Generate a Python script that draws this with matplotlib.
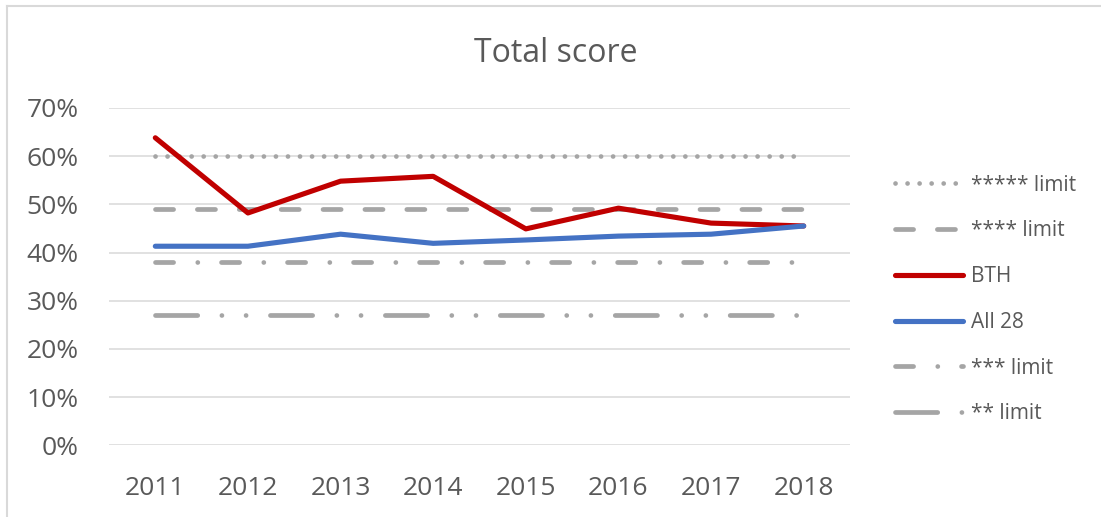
import matplotlib
matplotlib.use("Agg")
import matplotlib.pyplot as plt
from matplotlib.lines import Line2D
from matplotlib.ticker import PercentFormatter

plt.rcParams["font.family"] = ["Open Sans", "DejaVu Sans"]

years = ["2011", "2012", "2013", "2014", "2015", "2016", "2017", "2018"]
limit_5 = [60.0, 60.0, 60.0, 60.0, 60.0, 60.0, 60.0, 60.0]
limit_4 = [49.0, 49.0, 49.0, 49.0, 49.0, 49.0, 49.0, 49.0]
bth = [63.8, 48.2, 54.8, 55.8, 44.9, 49.2, 46.1, 45.5]
all28 = [41.3, 41.3, 43.8, 41.9, 42.6, 43.4, 43.8, 45.5]
limit_3 = [38.0, 38.0, 38.0, 38.0, 38.0, 38.0, 38.0, 38.0]
limit_2 = [27.0, 27.0, 27.0, 27.0, 27.0, 27.0, 27.0, 27.0]

TEXT = "#595959"
GRID = "#D9D9D9"
GRAY = "#A5A5A5"
RED = "#C00000"
BLUE = "#4472C4"

W, H = 1101, 517
fig = plt.figure(figsize=(W / 100, H / 100), dpi=100)
ax = fig.add_axes([109 / W, (H - 445.3) / H, 741 / W, (445.3 - 107.9) / H])

x = list(range(len(years)))
gray_lw = 3.4
col_lw = 3.7

series = [
    (limit_5, "***** limit", GRAY, gray_lw, (0, (0.01, 2.54))),
    (limit_4, "**** limit", GRAY, gray_lw, (0, (3.83, 5.04))),
    (bth, "BTH", RED, col_lw, "-"),
    (all28, "All 28", BLUE, col_lw, "-"),
    (limit_3, "*** limit", GRAY, gray_lw, (0, (3.83, 5.12, 0.01, 5.02))),
    (limit_2, "** limit", GRAY, gray_lw, (0, (8.94, 5.12, 0.01, 5.11, 0.01, 5.15))),
]

for vals, label, color, lw, ls in series:
    ax.plot(x, vals, color=color, lw=lw, linestyle=ls, label=label,
            dash_capstyle="round", solid_capstyle="round",
            solid_joinstyle="round")

ax.set_xlim(-0.5, len(years) - 0.5)
ax.set_ylim(0, 70)
ax.set_yticks(range(0, 71, 10))
ax.yaxis.set_major_formatter(PercentFormatter(xmax=100, decimals=0))
ax.set_xticks(x)
ax.set_xticklabels(years)
ax.grid(axis="y", color=GRID, lw=1.1)
ax.set_axisbelow(True)
for spine in ax.spines.values():
    spine.set_visible(False)
ax.tick_params(axis="y", length=0, pad=22, labelsize=19, labelcolor=TEXT)
ax.tick_params(axis="x", length=0, pad=22, labelsize=19, labelcolor=TEXT)

fig.text(555.5 / W, 1 - 53 / H, "Total score", ha="center", va="center",
         fontsize=23, color=TEXT)

fig.legend(loc="center left", bbox_to_anchor=(895 / W, 1 - 299.5 / H),
           frameon=False, fontsize=15, labelcolor=TEXT, borderpad=0,
           borderaxespad=0, handlelength=3.25, handletextpad=0.4,
           labelspacing=1.19)

# outer chart border
fig.add_artist(Line2D([7 / W, 7 / W], [0, 1 - 6 / H], color=GRID, lw=1.5,
                      transform=fig.transFigure))
fig.add_artist(Line2D([7 / W, 1], [1 - 6 / H, 1 - 6 / H], color=GRID, lw=1.5,
                      transform=fig.transFigure))

fig.savefig("out.png", dpi=100)
